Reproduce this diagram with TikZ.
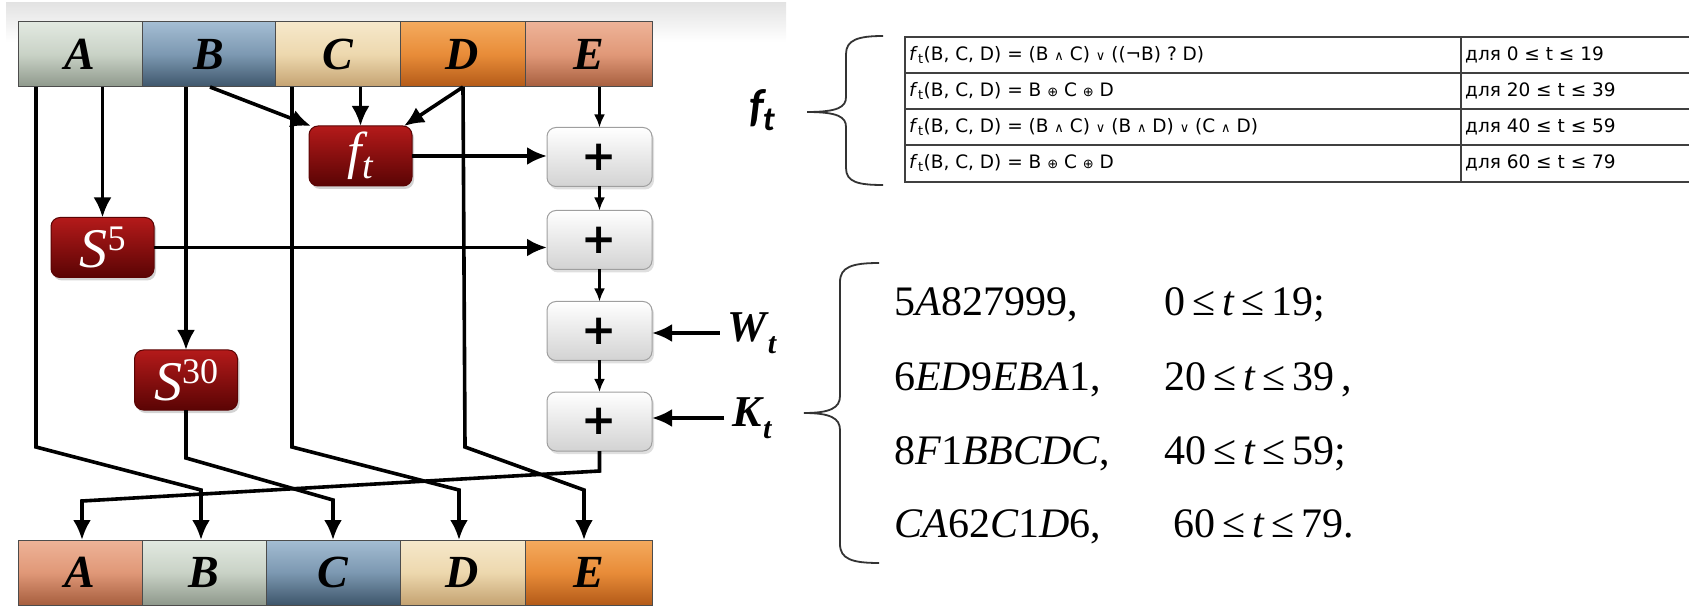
\documentclass[tikz,border=0pt]{standalone}
\usepackage{fontspec}
\setmainfont{Liberation Serif}
\setsansfont{DejaVu Sans}
\newfontfamily\symfont{DejaVu Sans}
\newfontfamily\calfont{Carlito}
\usetikzlibrary{arrows.meta,shadows,calc}
\definecolor{aT}{HTML}{E2E9E1}\definecolor{aM}{HTML}{C9D2C6}\definecolor{aB}{HTML}{8E988B}
\definecolor{bT}{HTML}{A4BDD3}\definecolor{bM}{HTML}{7C98B1}\definecolor{bB}{HTML}{3E566B}
\definecolor{cT}{HTML}{F6E8CB}\definecolor{cM}{HTML}{EDD8AE}\definecolor{cB}{HTML}{C4A271}
\definecolor{dT}{HTML}{F4AA5E}\definecolor{dM}{HTML}{E88C38}\definecolor{dB}{HTML}{B35A18}
\definecolor{eT}{HTML}{EEB398}\definecolor{eM}{HTML}{E09878}\definecolor{eB}{HTML}{A65E3E}
\definecolor{rT}{HTML}{B41A1A}\definecolor{rB}{HTML}{5A0404}
\newcommand\myand{{\symfont\fontsize{13}{13}\selectfont ∧}}
\newcommand\myor{{\symfont\fontsize{13}{13}\selectfont ∨}}
\newcommand\myxor{{\symfont\fontsize{13}{13}\selectfont ⊕}}
\tikzset{
  seg/.style={draw=black!70, line width=1pt, minimum height=65pt, inner sep=0pt, outer sep=0pt,
    font=\fontsize{46}{46}\selectfont\bfseries\itshape},
  redbox/.style={rounded corners=9pt, draw=rB, line width=1pt, top color=rT, bottom color=rB,
    text=white, minimum width=103pt, minimum height=60pt, inner sep=0pt, outer sep=0pt,
    drop shadow={shadow xshift=2pt, shadow yshift=-3pt, opacity=0.35}},
  plusbox/.style={rounded corners=9pt, draw=gray!75, line width=1pt, top color=white, bottom color=gray!35,
    minimum width=105pt, minimum height=59pt, inner sep=0pt, outer sep=0pt,
    font=\symfont\bfseries\fontsize{42}{42}\selectfont,
    drop shadow={shadow xshift=2pt, shadow yshift=-3pt, opacity=0.25}},
  wire/.style={line width=3.6pt, draw=black},
  arr/.style={wire, -{Latex[length=20pt,width=18pt]}},
  tarr/.style={line width=2.4pt, draw=black, -{Latex[length=13pt,width=11pt]}},
  brace/.style={line width=1.8pt, draw=black!80},
  tbl/.style={line width=1.5pt, draw=black!75},
  tcell/.style={anchor=west, inner sep=0pt, font=\sffamily\fontsize{18.5}{18.5}\selectfont},
  konst/.style={anchor=base west, inner sep=0pt, font=\fontsize{42}{42}\selectfont},
  inlab/.style={font=\fontsize{44}{44}\selectfont\bfseries\itshape, inner sep=0pt},
}
\begin{document}
\begin{tikzpicture}[x=1pt,y=-1pt]
\path[use as bounding box] (0,0) rectangle (1689,609);
\fill[top color=gray!22, bottom color=white] (6,3) rectangle (786,42);
% top register
\node[seg, minimum width=124pt, top color=aT, bottom color=aB, middle color=aM] (tA) at (80,54.5) {A};
\node[seg, minimum width=133pt, top color=bT, bottom color=bB, middle color=bM] (tB) at (208.5,54.5) {B};
\node[seg, minimum width=125pt, top color=cT, bottom color=cB, middle color=cM] (tC) at (337.5,54.5) {C};
\node[seg, minimum width=125pt, top color=dT, bottom color=dB, middle color=dM] (tD) at (462.5,54.5) {D};
\node[seg, minimum width=127pt, top color=eT, bottom color=eB, middle color=eM] (tE) at (588.5,54.5) {E};
% bottom register
\node[seg, minimum width=124pt, top color=eT, bottom color=eB, middle color=eM] (bA) at (80,572.5) {A};
\node[seg, minimum width=124pt, top color=aT, bottom color=aB, middle color=aM] (bB) at (204,572.5) {B};
\node[seg, minimum width=134pt, top color=bT, bottom color=bB, middle color=bM] (bC) at (333,572.5) {C};
\node[seg, minimum width=125pt, top color=cT, bottom color=cB, middle color=cM] (bD) at (462.5,572.5) {D};
\node[seg, minimum width=127pt, top color=dT, bottom color=dB, middle color=dM] (bE) at (588.5,572.5) {E};
% function boxes
\node[redbox] (ft) at (360.5,156) {{\fontsize{52}{52}\selectfont\itshape f}\kern1pt\raisebox{-10pt}{\fontsize{38}{38}\selectfont\itshape t}};
\node[redbox] (s5) at (102.5,247.5) {{\fontsize{56}{56}\selectfont\itshape S}\raisebox{17pt}{\fontsize{36}{36}\selectfont 5}};
\node[redbox] (s30) at (186,380) {{\fontsize{56}{56}\selectfont\itshape S}\raisebox{17pt}{\fontsize{36}{36}\selectfont 30}};
% adders
\node[plusbox] (p1) at (599.5,157) {+};
\node[plusbox] (p2) at (599.5,240) {+};
\node[plusbox] (p3) at (599.5,331) {+};
\node[plusbox] (p4) at (599.5,421.5) {+};
% inputs
\node[inlab] (wt) at (752,333) {W\kern1pt\raisebox{-12pt}{\fontsize{30}{30}\selectfont t}};
\node[inlab] (kt) at (752,418) {K\kern1pt\raisebox{-12pt}{\fontsize{30}{30}\selectfont t}};
% start points
\coordinate (a1) at (36,87);
\coordinate (bd) at (210,87);
\coordinate (c1) at (292,87);
\coordinate (dd) at (463,87);
% upper connectors
\draw[arr] (s5.north |- tA.south) -- (s5.north);
\draw[arr] (s30.north |- tB.south) -- (s30.north);
\draw[arr] (bd) -- ($(ft.north west)+(2,0)$);
\draw[arr] (ft.north |- tC.south) -- (ft.north);
\draw[arr] (dd) -- ($(ft.north east)+(-8,0)$);
\draw[tarr] (p1.north |- tE.south) -- (p1.north);
\draw[arr] (ft.east) -- (ft.east -| p1.west);
\draw[arr] (s5.east) -- (s5.east -| p2.west);
\draw[tarr] (p1.south) -- (p2.north);
\draw[tarr] (p2.south) -- (p3.north);
\draw[tarr] (p3.south) -- (p4.north);
\draw[arr] ($(wt.west)+(-8,0)$) -- (wt.west -| p3.east);
\draw[arr] ($(kt.west)+(-8,0)$) -- (kt.west -| p4.east);
% lower connectors
\draw[arr] (a1) -- (36,447) -- (201,490) -- ($(bB.north)+(-3,0)$);
\draw[arr] (s30.south) -- (186,458) -- (333,500) -- (bC.north);
\draw[arr] (c1) -- (292,447) -- (459,490) -- ($(bD.north)+(-3.5,0)$);
\draw[arr] (dd) -- (465,447) -- (584,490) -- ($(bE.north)+(-4.5,0)$);
\draw[arr] (p4.south) -- (599.5,471) -- (82,501) -- ($(bA.north)+(2,0)$);
% f_t label and brace
\node[inner sep=0pt, font=\calfont\bfseries\itshape] (ftl) at (762,110) {{\fontsize{46}{46}\selectfont f}\kern-1pt\raisebox{-9pt}{\fontsize{34}{34}\selectfont t}};
\draw[brace] (883,36) .. controls (858,36) and (846,40) .. (846,54) -- (846,97)
  .. controls (846,107) and (838,112) .. (807,112)
  .. controls (838,112) and (846,117) .. (846,127) -- (846,168)
  .. controls (846,182) and (858,185) .. (883,185);
% table
\draw[tbl] (1689,37) -- (905,37) -- (905,182) -- (1689,182);
\draw[tbl] (905,73) -- (1689,73);
\draw[tbl] (905,109) -- (1689,109);
\draw[tbl] (905,145) -- (1689,145);
\draw[tbl] (1461,37) -- (1461,182);
\node[tcell] (r1) at (909,55) {\textit{f}\textsubscript{t}(B, C, D) = (B \myand{} C) \myor{} ((¬B) ? D)};
\node[tcell] (r2) at (909,91) {\textit{f}\textsubscript{t}(B, C, D) = B \myxor{} C \myxor{} D};
\node[tcell] (r3) at (909,127) {\textit{f}\textsubscript{t}(B, C, D) = (B \myand{} C) \myor{} (B \myand{} D) \myor{} (C \myand{} D)};
\node[tcell] (r4) at (909,163) {\textit{f}\textsubscript{t}(B, C, D) = B \myxor{} C \myxor{} D};
\node[tcell] (q1) at (1465,55) {для 0 ≤ t ≤ 19};
\node[tcell] (q2) at (1465,91) {для 20 ≤ t ≤ 39};
\node[tcell] (q3) at (1465,127) {для 40 ≤ t ≤ 59};
\node[tcell] (q4) at (1465,163) {для 60 ≤ t ≤ 79};
% K_t brace and constants
\draw[brace] (879,263) .. controls (852,263) and (840,267) .. (840,282) -- (840,396)
  .. controls (840,408) and (830,413) .. (804,413)
  .. controls (830,413) and (840,418) .. (840,430) -- (840,544)
  .. controls (840,559) and (852,563) .. (879,563);
\node[konst] (k1) at (894,316) {5\textit{A}827999,};
\node[konst] (k2) at (894,391) {6\textit{ED}9\textit{EBA}1,};
\node[konst] (k3) at (894,464) {8\textit{F}1\textit{BBCDC},};
\node[konst] (k4) at (894,537) {\textit{CA}62\textit{C}1\textit{D}6,};
\node[konst] (g1) at (1164,316) {0\,≤\,\textit{t}\,≤\,19;};
\node[konst] (g2) at (1164,391) {20\,≤\,\textit{t}\,≤\,39\,,};
\node[konst] (g3) at (1164,464) {40\,≤\,\textit{t}\,≤\,59;};
\node[konst] (g4) at (1173,537) {60\,≤\,\textit{t}\,≤\,79.};
\end{tikzpicture}
\end{document}
